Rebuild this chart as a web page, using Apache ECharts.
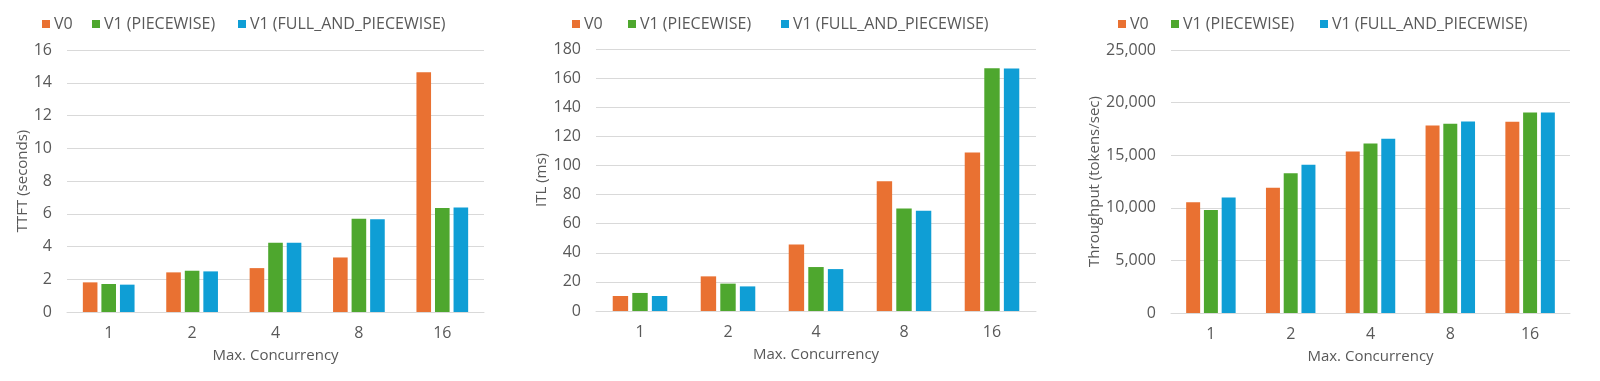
<!DOCTYPE html>
<html>
<head>
<meta charset="utf-8">
<script src="https://cdn.jsdelivr.net/npm/echarts@6/dist/echarts.min.js"></script>
<style>html,body{margin:0;padding:0;background:#fff}#c{width:1600px;height:381px}</style>
</head>
<body>
<div id="c"></div>
<script>
const categories = ['1', '2', '4', '8', '16'];
const seriesNames = ['V0', 'V1 (PIECEWISE)', 'V1 (FULL_AND_PIECEWISE)'];
const colors = ['#E97132', '#4EA72E', '#0F9ED5'];

const ttftV0 = [1.81, 2.42, 2.68, 3.33, 14.64];
const ttftPiecewise = [1.71, 2.52, 4.23, 5.69, 6.35];
const ttftFull = [1.67, 2.48, 4.23, 5.67, 6.38];

const itlV0 = [10.3, 23.8, 45.7, 89.2, 108.9];
const itlPiecewise = [12.4, 18.8, 30.2, 70.5, 166.8];
const itlFull = [10.3, 16.9, 28.8, 68.8, 166.6];

const tputV0 = [10530, 11900, 15350, 17830, 18180];
const tputPiecewise = [9800, 13290, 16120, 17990, 19070];
const tputFull = [10980, 14090, 16560, 18210, 19070];

const yTitles = ['TTFT (seconds)', 'ITL (ms)', 'Throughput (tokens/sec)'];
const yMax = [16, 180, 25000];
const yInterval = [2, 20, 5000];
const xTitle = 'Max. Concurrency';

const FONT = '"Open Sans", Lato, sans-serif';
const FS = 15;
const FS_BIG = 16;
const TXT = '#595959';
const GRIDC = '#D9D9D9';

const grids = [
  {left: 67, right: 1116, top: 50, bottom: 69},
  {left: 596, right: 564, top: 49, bottom: 70},
  {left: 1171, right: 30, top: 50, bottom: 68}
];
// legend item left positions per panel, per series
const legendLefts = [
  [43, 93, 239],
  [573, 629, 782],
  [1119, 1172, 1321]
];
const yNameGap = [35, 43, 67];
const panelData = [
  [ttftV0, ttftPiecewise, ttftFull],
  [itlV0, itlPiecewise, itlFull],
  [tputV0, tputPiecewise, tputFull]
];

const legends = [];
legendLefts.forEach(row => row.forEach((l, s) => {
  legends.push({
    data: [seriesNames[s]],
    left: l - 1, top: 11, padding: [5, 0, 5, 0],
    icon: 'rect', itemWidth: 8, itemHeight: 8,
    textStyle: {fontFamily: FONT, fontSize: FS_BIG, color: TXT, padding: [0, 0, 0, -1]},
    selectedMode: false
  });
}));

const option = {
  animation: false,
  backgroundColor: '#fff',
  textStyle: {fontFamily: FONT, color: TXT},
  grid: grids,
  legend: legends,
  xAxis: grids.map((g, i) => ({
    type: 'category', gridIndex: i, data: categories,
    name: xTitle, nameLocation: 'middle', nameGap: 36,
    nameTextStyle: {fontFamily: FONT, fontSize: FS, color: TXT},
    axisLine: {show: true, lineStyle: {color: GRIDC, width: 1}},
    axisTick: {show: false},
    axisLabel: {fontFamily: FONT, fontSize: FS_BIG, color: TXT, margin: 13}
  })),
  yAxis: grids.map((g, i) => ({
    type: 'value', gridIndex: i, min: 0, max: yMax[i], interval: yInterval[i],
    name: yTitles[i], nameLocation: 'middle', nameGap: yNameGap[i], nameRotate: 90,
    nameTextStyle: {fontFamily: FONT, fontSize: FS, color: TXT},
    axisLine: {show: false}, axisTick: {show: false},
    splitLine: {lineStyle: {color: GRIDC, width: 1}},
    axisLabel: {fontFamily: FONT, fontSize: FS_BIG, color: TXT, margin: 15,
      formatter: v => v.toLocaleString('en-US')}
  })),
  series: []
};

panelData.forEach((arrs, p) => {
  arrs.forEach((d, s) => {
    option.series.push({
      type: 'bar', name: seriesNames[s], xAxisIndex: p, yAxisIndex: p,
      data: d, itemStyle: {color: colors[s]},
      barGap: '27%', barCategoryGap: '38%'
    });
  });
});

const chart = echarts.init(document.getElementById('c'), null, {renderer: 'canvas'});
chart.setOption(option);
</script>
</body>
</html>
